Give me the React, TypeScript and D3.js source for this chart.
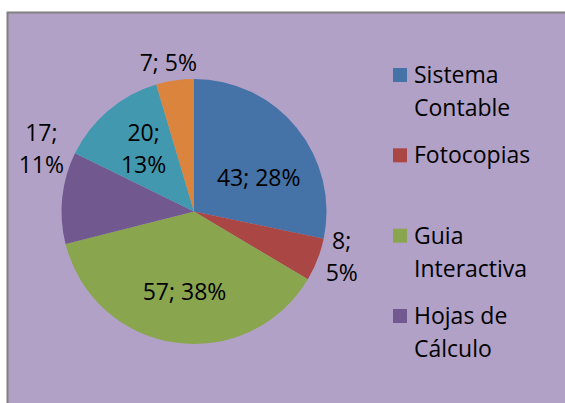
import React from 'react';
import * as d3 from 'd3';

// Slice names, in drawing order (clockwise from 12 o'clock)
const categories = ['Sistema Contable', 'Fotocopias', 'Guia Interactiva', 'Hojas de Cálculo', 'Internet', 'Otros'];
const values = [43, 8, 57, 17, 20, 7];
const colors = ['#4572A7', '#AA4643', '#89A54E', '#71588F', '#4198AF', '#DB843D'];
// only the first four fit in the legend, the rest are cut off
const legendLines = [['Sistema', 'Contable'], ['Fotocopias'], ['Guia', 'Interactiva'], ['Hojas de', 'Cálculo']];

const W = 565;
const H = 403;
const FONT = "'Open Sans', Calibri, sans-serif";

export default function App() {
  const cx = 194;
  const cy = 211.5;
  const R = 132.5;

  const total = d3.sum(values);
  const pie = d3.pie<number>().sort(null).value(d => d);
  const arcs = pie(values);
  const arc = d3.arc<d3.PieArcDatum<number>>().innerRadius(0).outerRadius(R);

  // label placement: inside ones at 0.6R, outside ones beyond the rim, plus small nudges
  const labelSetup = [
    { r: 0.6 * R, dx: 3, dy: 17, wrap: false },
    { r: R + 25, dx: 1, dy: -12, wrap: true },
    { r: 0.6 * R, dx: 2, dy: 2, wrap: false },
    { r: R + 25, dx: 4, dy: -46, wrap: true },
    { r: 0.6 * R, dx: 1, dy: -2, wrap: true },
    { r: R + 18, dx: -4, dy: 0, wrap: false },
  ];

  const legendY = d3.scalePoint<number>()
    .domain(d3.range(legendLines.length))
    .range([83, 324]);

  return (
    <svg width={W} height={H} style={{ position: 'absolute', left: 0, top: 0, background: '#fff' }}>
      <rect x={7.5} y={12.5} width={W} height={H} fill="#B2A1C7" stroke="#808080" strokeWidth={2} />
      <g transform={`translate(${cx},${cy})`}>
        {arcs.map((a, i) => (
          <path key={categories[i]} d={arc(a) || ''} fill={colors[i]} />
        ))}
        {arcs.map((a, i) => {
          const s = labelSetup[i];
          const mid = (a.startAngle + a.endAngle) / 2;
          const x = Math.sin(mid) * s.r + s.dx;
          const y = -Math.cos(mid) * s.r + s.dy;
          const pct = Math.round((values[i] / total) * 100);
          const lines = s.wrap ? [`${values[i]};`, `${pct}%`] : [`${values[i]}; ${pct}%`];
          const first = y - (lines.length - 1) * 16 + 8;
          return (
            <text key={'l' + i} textAnchor="middle" fontFamily={FONT} fontSize={23} fill="#000">
              {lines.map((t, k) => (
                <tspan key={k} x={x} y={first + k * 32}>{t}</tspan>
              ))}
            </text>
          );
        })}
      </g>
      <g>
        {legendLines.map((lines, i) => {
          const y = legendY(i) as number;
          return (
            <g key={'lg' + i}>
              <rect x={393} y={y - 15} width={14} height={14} fill={colors[i]} />
              <text fontFamily={FONT} fontSize={23} fill="#000">
                {lines.map((t, k) => (
                  <tspan key={k} x={414} y={y + k * 33}>{t}</tspan>
                ))}
              </text>
            </g>
          );
        })}
      </g>
    </svg>
  );
}
